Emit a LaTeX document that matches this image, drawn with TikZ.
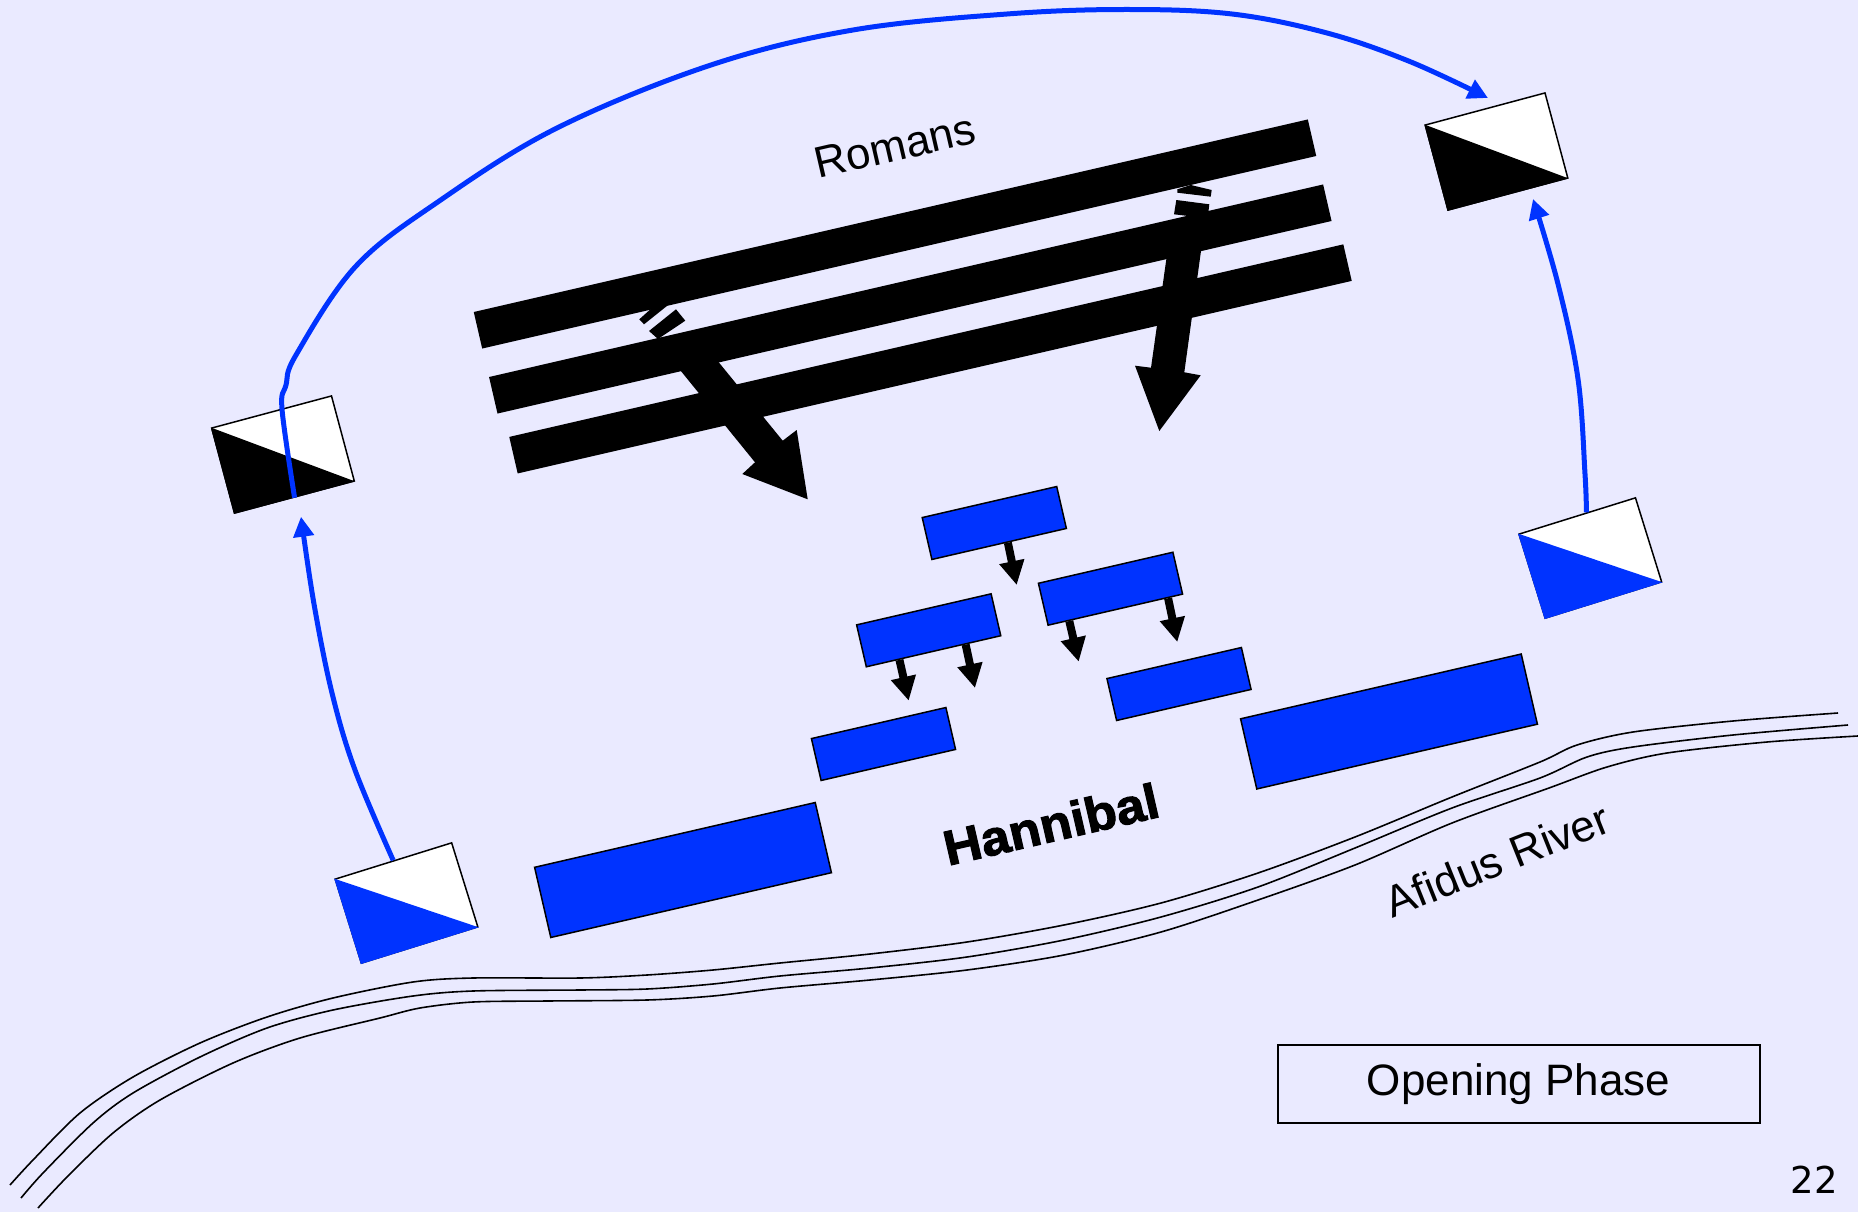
\documentclass[tikz,border=0pt]{standalone}
\usepackage{fontspec}
\setmainfont{Liberation Sans}
\newfontfamily\heavyfont[FakeBold=2.2,FakeStretch=1.06]{Liberation Sans Bold}
\newfontfamily\pagefont{DejaVu Sans}
\usetikzlibrary{arrows.meta,calc}
\definecolor{slidebg}{HTML}{EAEAFF}
\definecolor{carthblue}{HTML}{0033FF}
\tikzset{
	frontline/.style={fill=black,rotate=13,minimum width=856pt,minimum height=37.5pt,inner sep=0pt},
	unit/.style={draw=black,line width=1.5pt,fill=carthblue,rotate=13,minimum width=138pt,minimum height=43pt,inner sep=0pt},
	bigunit/.style={unit,minimum width=288pt,minimum height=72pt},
	wing/.style={draw=black,line width=1.5pt,fill=white,minimum width=124pt,minimum height=88pt,inner sep=0pt},
	smallarrow/.style={line width=8pt,-{Triangle[length=24pt,width=24pt]}},
	bluearrow/.style={carthblue,line width=5pt,-{Triangle[length=20pt,width=20pt]}},
	river/.style={black,line width=1.6pt},
	maplabel/.style={font=\fontsize{44}{50}\selectfont,inner sep=0pt}
}
\begin{document}
\begin{tikzpicture}[x=1pt,y=-1pt]
\useasboundingbox (0,0) rectangle (1858,1212);
\fill[slidebg] (0,0) rectangle (1858,1212);

% river
\draw[river] plot[smooth,tension=0.5] coordinates {(10,1185) (33,1160) (80,1113) (133,1077) (200,1043) (267,1017) (333,998) (413,982) (473,978) (580,978) (647,975) (713,970) (780,963) (870,954) (967,942) (1064,925) (1161,903) (1258,873) (1355,837) (1452,797) (1540,762) (1577,745) (1633,732) (1733,721) (1838,713)};
\draw[river] plot[smooth,tension=0.5] coordinates {(21,1198) (43,1173) (93,1123) (133,1093) (200,1057) (267,1028) (333,1010) (413,996) (473,991) (580,990) (647,989) (713,984) (780,976) (870,968) (967,957) (1064,940) (1161,917) (1258,887) (1355,848) (1452,808) (1540,778) (1587,757) (1633,747) (1733,735) (1848,725)};
\draw[river] plot[smooth,tension=0.5] coordinates {(38,1208) (67,1177) (113,1133) (160,1100) (233,1063) (300,1038) (380,1018) (420,1008) (473,1002) (547,1001) (647,1000) (713,996) (780,988) (870,980) (967,970) (1064,955) (1161,932) (1258,900) (1355,865) (1452,823) (1549,788) (1607,767) (1667,753) (1767,742) (1858,736)};

% roman lines
\node[frontline] (line1) at (895,234) {};
\node[frontline] (line2) at (910.3,299) {};
\node[frontline] (line3) at (930.5,358.9) {};

% big arrow left, with the cut tail
\fill[black] (639.3,319.3) -- (644,324.3) -- (667.3,305.7) -- (653.3,306.7) -- cycle;
\fill[black] (649,331) -- (676,309.3) -- (685.3,320.7) -- (658,339) -- cycle;
\fill[black] (676,365) -- (703,343) -- (782.7,440.7) -- (796.7,430) -- (807.7,499.3) -- (742.3,474) -- (755,462.3) -- cycle;

% big arrow right, with the cut tail
\fill[black] (1177.3,189.3) -- (1190.7,185) -- (1211.7,190) -- (1210.7,196.7) -- (1177.3,192.7) -- cycle;
\fill[black] (1176.3,200) -- (1209.3,204.3) -- (1207.7,218.3) -- (1174,214.3) -- cycle;
\fill[black] (1169.5,236.7) -- (1202.5,240) -- (1184.3,372.3) -- (1200.7,375.3) -- (1159.3,431) -- (1135,365.7) -- (1151,367.7) -- cycle;

% hannibal
\foreach \name/\x/\y in {boxA/994.3/523,boxB/1110.5/588.7,boxC/928.7/630.3,boxD/1179/684,boxE/883.5/744}
	\node[unit] (\name) at (\x,\y) {};
\node[bigunit] (bigL) at (683,870) {};
\node[bigunit] (bigR) at (1389,721.5) {};

\foreach \name/\pos/\tipx/\tipy in {boxA/0.563/1016.7/585,boxB/0.16/1078.7/661.7,boxB/0.887/1177.3/642,boxC/0.248/908.7/700.7,boxC/0.735/975/688}{
	\coordinate (tip) at (\tipx,\tipy);
	\draw[smallarrow] ($(\name.south west)!\pos!(\name.south east)$) -- (tip);
}

% cavalry wings
\node[wing,rotate=15] (wingNW) at (283,454.5) {};
\fill[black] (wingNW.north west) -- (wingNW.south east) -- (wingNW.south west) -- cycle;
\node[wing,rotate=15] (wingNE) at (1496.5,151.5) {};
\fill[black] (wingNE.north west) -- (wingNE.south east) -- (wingNE.south west) -- cycle;
\node[wing,rotate=17.3,minimum width=122pt] (wingSW) at (406.5,903) {};
\fill[carthblue] (wingSW.north west) -- (wingSW.south east) -- (wingSW.south west) -- cycle;
\node[wing,rotate=17.3,minimum width=122pt] (wingSE) at (1590.3,558) {};
\fill[carthblue] (wingSE.north west) -- (wingSE.south east) -- (wingSE.south west) -- cycle;

% cavalry moves
\coordinate (tipW) at (301,516.7);
\coordinate (tipE) at (1533,199);
\coordinate (tipN) at (1488,98);
\draw[bluearrow] plot[smooth,tension=0.6] coordinates {(wingSW.north) (355,770) (332,693) (314,604) (tipW)};
\draw[bluearrow] plot[smooth,tension=0.6] coordinates {($(wingSE.north west)!0.58!(wingSE.north east)$) (1585,474) (1578,379) (1558,284) (tipE)};
\draw[bluearrow] plot[smooth,tension=0.6] coordinates {(wingNW.south) (282,409) (286,385) (296,355) (355.5,266.6) (438.5,201.5) (557,128) (711,65) (853,30) (1007,14) (1126,9.5) (1232,14) (1327,33) (1410,61.6) (tipN)};

% labels
\node[maplabel,rotate=13] (romans) at (895,146) {Romans};
\node[maplabel,rotate=21.8] (afidus) at (1497,860) {Afidus River};
\node[inner sep=0pt,rotate=13,font=\heavyfont\fontsize{49}{52}\selectfont] (hannibal) at (1051,824) {Hannibal};
\node[draw=black,line width=2pt,minimum width=482pt,minimum height=78pt,inner sep=0pt,font=\fontsize{44}{50}\selectfont] (phase) at (1518.6,1083.7) {Opening Phase};
\node[inner sep=0pt,font=\pagefont\fontsize{37}{40}\selectfont] (pagenum) at (1814.5,1179.5) {22};
\end{tikzpicture}
\end{document}
